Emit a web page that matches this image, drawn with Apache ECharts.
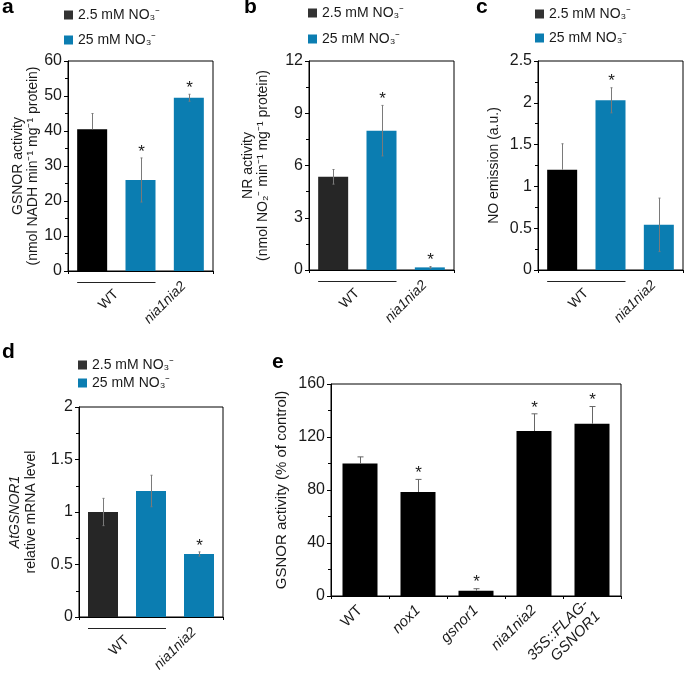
<!DOCTYPE html>
<html><head><meta charset="utf-8">
<script src="https://cdn.jsdelivr.net/npm/echarts@6/dist/echarts.min.js"></script>
<style>html,body{margin:0;padding:0;background:#fff}#c{width:685px;height:685px}</style>
</head><body><div id="c"></div>
<script>
const FONT = '"Liberation Sans", Arial, Helvetica, sans-serif';
const legendNames = ['2.5 mM NO₃⁻', '25 mM NO₃⁻'];
const groupLabels = ['WT', 'nia1nia2'];
const conditionCats = ['WT 2.5 mM', 'WT 25 mM', 'nia1nia2 25 mM'];

const aValues = [40.5, 26, 49.5];
const aErrors = [4.5, 6.3, 1.0];
const aStars = [0, 1, 1];
const aTicks = [0, 10, 20, 30, 40, 50, 60];

const bValues = [5.35, 8.0, 0.15];
const bErrors = [0.42, 1.45, 0.05];
const bStars = [0, 1, 1];
const bTicks = [0, 3, 6, 9, 12];

const cValues = [1.2, 2.03, 0.54];
const cErrors = [0.31, 0.15, 0.32];
const cStars = [0, 1, 0];
const cTicks = [0, 0.5, 1, 1.5, 2, 2.5];

const dValues = [1.0, 1.2, 0.6];
const dErrors = [0.13, 0.15, 0.02];
const dStars = [0, 0, 1];
const dTicks = [0, 0.5, 1, 1.5, 2];

const eCats = ['WT', 'nox1', 'gsnor1', 'nia1nia2', '35S::FLAG-\nGSNOR1'];
const eValues = [100, 78.5, 4, 124.5, 130];
const eErrors = [5, 9.5, 1.5, 13, 13];
const eStars = [0, 1, 1, 1, 1];
const eTicks = [0, 40, 80, 120, 160];

const BLUE = '#0b7db1';
const TXT = '#1a1a1a';

const panels = [
  {key:'a', values:aValues, errors:aErrors, stars:aStars, ticks:aTicks,
   grid:{left:68, top:61, width:145, height:210}, dark:'#000', hideDarkLow:true,
   yName:'GSNOR activity\n(nmol NADH min⁻¹ mg⁻¹ protein)', nameGap:26,
   legend:{left:64, top:7, gap:9}, letter:{left:2, top:-3}},
  {key:'b', values:bValues, errors:bErrors, stars:bStars, ticks:bTicks,
   grid:{left:309, top:61, width:145, height:209}, dark:'#262626', hideDarkLow:false,
   yName:'NR activity\n(nmol NO₂⁻ min⁻¹ mg⁻¹ protein)', nameGap:38,
   legend:{left:308, top:5, gap:10}, letter:{left:244, top:-3}},
  {key:'c', values:cValues, errors:cErrors, stars:cStars, ticks:cTicks,
   grid:{left:538, top:61, width:145, height:209}, dark:'#000', hideDarkLow:true,
   yName:'NO emission (a.u.)', nameGap:36,
   legend:{left:535, top:6, gap:8}, letter:{left:476, top:-3}},
  {key:'d', values:dValues, errors:dErrors, stars:dStars, ticks:dTicks,
   grid:{left:79, top:407, width:144, height:210}, dark:'#262626', hideDarkLow:false,
   yName:'{i|AtGSNOR1}\nrelative mRNA level', nameGap:40,
   legend:{left:78, top:357, gap:2}, letter:{left:2, top:342}}
];

const option = {
  animation: false,
  backgroundColor: '#fff',
  textStyle: {fontFamily: FONT},
  title: [], legend: [], grid: [], xAxis: [], yAxis: [], series: []
};

function yAxisFor(ticks, gi, name, nameGap, nameSize) {
  return {
    type:'value', gridIndex:gi, min:ticks[0], max:ticks[ticks.length-1], interval:ticks[1]-ticks[0],
    axisLine:{show:true, lineStyle:{color:'#000', width:1}},
    axisTick:{show:true, inside:false, length:4, lineStyle:{color:'#000'}},
    minorTick:{show:true, splitNumber:2, length:3, lineStyle:{color:'#000'}},
    splitLine:{show:false},
    axisLabel:{color:TXT, fontSize:16, margin:6, fontFamily:FONT},
    name:name, nameLocation:'middle', nameGap:nameGap, nameRotate:90,
    nameTextStyle:{color:TXT, fontSize:nameSize, lineHeight:15, fontFamily:FONT,
      rich:{i:{fontStyle:'italic', fontSize:nameSize, color:TXT, fontFamily:FONT, lineHeight:17}}}
  };
}

function errRender(p) {
  return function(params, api) {
    const i = api.value(0), v = api.value(1), e = api.value(2), s = api.value(3);
    const pTop = api.coord([i, v + e]);
    const pMid = api.coord([i, v]);
    let pBot = api.coord([i, p.topOnly ? v : v - e]);
    if (p.hideDarkLow && i === 0) pBot = pMid;
    const x = Math.round(pTop[0]) + 0.5;
    const st = {stroke:p.errColor, lineWidth:1};
    const ch = [{type:'line', shape:{x1:x, y1:pTop[1], x2:x, y2:pBot[1]}, style:st}];
    if (p.cap) {
      ch.push({type:'line', shape:{x1:x-p.cap, y1:pTop[1], x2:x+p.cap, y2:pTop[1]}, style:st});
      if (!p.topOnly && !(p.hideDarkLow && i === 0))
        ch.push({type:'line', shape:{x1:x-p.cap, y1:pBot[1], x2:x+p.cap, y2:pBot[1]}, style:st});
    }
    if (s) ch.push({type:'text', x:x, y:pTop[1]-6,
      style:{text:'*', fill:TXT, fontSize:17, fontFamily:FONT, align:'center', verticalAlign:'middle'}});
    return {type:'group', children:ch};
  };
}

function groupRender(barWidth) {
  return function(params, api) {
    const c0 = api.coord([0, 0]), c1 = api.coord([1, 0]), c2 = api.coord([2, 0]);
    const hw = barWidth / 2;
    const ax = c0[1];
    const boundary = (c0[0] + c1[0]) / 2;
    const base = {fill:TXT, fontSize:14, fontFamily:FONT, align:'right', verticalAlign:'middle'};
    return {type:'group', children:[
      {type:'line', shape:{x1:c0[0]-hw, y1:Math.round(ax+11)+0.5, x2:c1[0]+hw, y2:Math.round(ax+11)+0.5},
       style:{stroke:'#222', lineWidth:1}},
      {type:'text', x:boundary, y:ax+21, rotation:Math.PI/4,
       style:Object.assign({text:groupLabels[0]}, base)},
      {type:'text', x:c2[0]-5, y:ax+13, rotation:Math.PI/4,
       style:Object.assign({text:groupLabels[1], fontStyle:'italic'}, base)}
    ]};
  };
}

panels.forEach(function(p, gi) {
  option.title.push({text:p.key, left:p.letter.left, top:p.letter.top, padding:0,
    textStyle:{fontSize:21, fontWeight:'bold', color:'#000', fontFamily:FONT}});
  option.legend.push({left:p.legend.left, top:p.legend.top, orient:'vertical', padding:0,
    itemWidth:9, itemHeight:9, itemGap:p.legend.gap, icon:'rect', selectedMode:false,
    textStyle:{fontSize:14, color:TXT, fontFamily:FONT, lineHeight:16},
    data:[{name:legendNames[0], itemStyle:{color:'#333'}}, {name:legendNames[1], itemStyle:{color:BLUE}}]});
  option.grid.push(Object.assign({show:true, borderColor:'#000', borderWidth:1, backgroundColor:'transparent'}, p.grid));
  option.xAxis.push({type:'category', gridIndex:gi, data:conditionCats,
    axisLine:{show:true, lineStyle:{color:'#000'}},
    axisTick:{show:true, length:3, lineStyle:{color:'#000'}},
    axisLabel:{show:false}});
  option.yAxis.push(yAxisFor(p.ticks, gi, p.yName, p.nameGap, 14));
  option.series.push({type:'bar', name:legendNames[0], xAxisIndex:gi, yAxisIndex:gi, barWidth:30, barGap:'-100%',
    itemStyle:{color:p.dark}, data:p.values.map(function(v,i){return i===0 ? v : '-';})});
  option.series.push({type:'bar', name:legendNames[1], xAxisIndex:gi, yAxisIndex:gi, barWidth:30, barGap:'-100%',
    itemStyle:{color:BLUE}, data:p.values.map(function(v,i){return i===0 ? '-' : v;})});
  option.series.push({type:'custom', xAxisIndex:gi, yAxisIndex:gi, z:5,
    renderItem:errRender({errColor:'#7a7a7a', cap:1, topOnly:false, hideDarkLow:p.hideDarkLow}),
    encode:{x:0, y:1},
    data:p.values.map(function(v,i){return [i, v, p.errors[i], p.stars[i]];})});
  option.series.push({type:'custom', xAxisIndex:gi, yAxisIndex:gi, z:5,
    renderItem:groupRender(30), encode:{x:0, y:1}, data:[[0, 0]]});
});

// panel e
const ge = 4;
option.title.push({text:'e', left:272, top:352, padding:0,
  textStyle:{fontSize:21, fontWeight:'bold', color:'#000', fontFamily:FONT}});
option.grid.push({show:true, borderColor:'#000', borderWidth:1, backgroundColor:'transparent',
  left:331, top:384, width:290, height:212});
option.xAxis.push({type:'category', gridIndex:ge, data:eCats,
  axisLine:{show:true, lineStyle:{color:'#000'}},
  axisTick:{show:true, length:3, lineStyle:{color:'#000'}},
  axisLabel:{show:true, rotate:45, margin:12, color:TXT, fontSize:15, fontFamily:FONT, lineHeight:17,
    formatter:function(v, i){ return i === 0 ? v : v.split('\n').map(function(s){return '{i|' + s + '}';}).join('\n'); },
    rich:{i:{fontStyle:'italic', fontSize:15, color:TXT, fontFamily:FONT, lineHeight:17}}}});
const eY = yAxisFor(eTicks, ge, 'GSNOR activity (% of control)', 42, 15);
option.yAxis.push(eY);
option.series.push({type:'bar', name:'GSNOR activity', xAxisIndex:ge, yAxisIndex:ge, barWidth:35,
  itemStyle:{color:'#000'}, data:eValues});
option.series.push({type:'custom', xAxisIndex:ge, yAxisIndex:ge, z:5,
  renderItem:errRender({errColor:'#666', cap:3, topOnly:true, hideDarkLow:false}),
  encode:{x:0, y:1},
  data:eValues.map(function(v,i){return [i, v, eErrors[i], eStars[i]];})});

const chart = echarts.init(document.getElementById('c'), null, {renderer:'canvas'});
chart.setOption(option);
</script>
</body></html>
